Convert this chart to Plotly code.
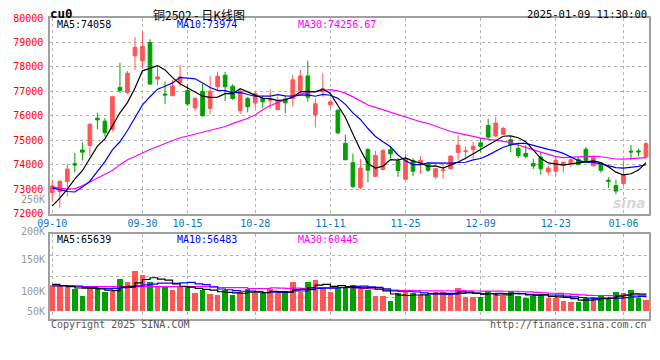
import plotly.graph_objects as go
import pandas as pd

# ---------------- data ----------------
dates = (["09-10", "09-11", "09-12", "09-13", "09-18", "09-19", "09-20", "09-23", "09-24", "09-25", "09-26", "09-27", "09-30"]
         + ["10-08", "10-09", "10-10", "10-11", "10-14", "10-15", "10-16", "10-17", "10-18", "10-21", "10-22", "10-23",
            "10-24", "10-25", "10-28", "10-29", "10-30", "10-31"]
         + ["11-01", "11-04", "11-05", "11-06", "11-07", "11-08", "11-11", "11-12", "11-13", "11-14", "11-15", "11-18",
            "11-19", "11-20", "11-21", "11-22", "11-25", "11-26", "11-27", "11-28", "11-29"]
         + ["12-02", "12-03", "12-04", "12-05", "12-06", "12-09", "12-10", "12-11", "12-12", "12-13", "12-16", "12-17",
            "12-18", "12-19", "12-20", "12-23", "12-24", "12-25", "12-26", "12-27", "12-30", "12-31"]
         + ["01-02", "01-03", "01-06", "01-07", "01-08", "01-09"])

opens = [72860, 72900, 73310, 74040, 74600, 74780, 75900, 75780, 75450, 77160,
         76950, 78450, 78250, 79000, 77500, 76890, 76820, 77350, 77030, 76320,
         77000, 76300, 77190, 77660, 77210, 76210, 76710, 76520, 76700, 76630,
         76250, 76690, 76700, 77030, 77630, 76030, 76980, 76450, 76230, 74870,
         74080, 73060, 74620, 73520, 73800, 74610, 74150, 73400, 74170, 73990,
         74010, 73500, 73750, 73830, 74500, 74530, 74610, 74890, 75600, 75170,
         75240, 75020, 74670, 74460, 74050, 74300, 73700, 73730, 73980, 74050,
         74220, 74630, 73950, 74010, 73360, 73140, 73230, 74550, 74560, 74310]
highs = [73380, 73380, 74030, 74480, 74900, 75700, 76120, 75900, 76820, 78160,
         77830, 79220, 79460, 79130, 78000, 77400, 77460, 78070, 77300, 76780,
         77300, 77620, 77800, 77800, 77290, 77050, 76760, 76980, 76820, 77070,
         76770, 76820, 77670, 77880, 78250, 76700, 77740, 76650, 76250, 75230,
         74450, 74230, 74670, 74560, 74630, 74720, 74270, 74450, 74260, 74350,
         74100, 73870, 74020, 74380, 75200, 74740, 74930, 75100, 75880, 75960,
         75560, 75130, 74880, 74800, 74240, 74500, 73940, 74360, 74110, 74290,
         74320, 74720, 74380, 74100, 73480, 73380, 74170, 74800, 74650, 74920]
lows = [72480, 72240, 72700, 73680, 74170, 74350, 75450, 75150, 75350, 76930,
        76890, 77880, 77950, 77260, 77250, 76480, 76800, 77200, 76410, 76190,
        75970, 76080, 77050, 76600, 76650, 76070, 76140, 76320, 76330, 76300,
        76230, 76100, 76380, 76820, 76570, 75530, 76780, 76300, 75240, 74180,
        73050, 72990, 73280, 73480, 73760, 74260, 73500, 73380, 73530, 73630,
        73700, 73420, 73420, 73800, 74200, 74200, 74250, 74500, 75060, 75120,
        75220, 74500, 74270, 74260, 73820, 73590, 73560, 73540, 73680, 73900,
        73980, 74100, 73930, 73670, 73050, 72780, 73130, 74180, 74340, 74250]
closes = [73130, 73310, 73820, 73980, 74510, 75650, 75830, 75310, 76780, 77030,
          77740, 78800, 78840, 77300, 77590, 76850, 77220, 77590, 76480, 76710,
          76000, 77000, 77620, 77190, 76710, 77010, 76370, 76900, 76570, 76670,
          76600, 76530, 77470, 77630, 76760, 76490, 77100, 76570, 75300, 74200,
          73100, 73860, 73770, 74370, 74580, 74440, 73760, 74220, 73730, 74180,
          73770, 73830, 73780, 74350, 74800, 74560, 74750, 74750, 75130, 75700,
          75480, 74810, 74370, 74340, 73940, 73830, 73860, 74180, 74100, 74200,
          74000, 74170, 74280, 73770, 73320, 72920, 73600, 74520, 74520, 74860]
volumes = [101400, 101400, 98700, 85800, 59700, 97500, 88500, 75300, 78000, 124800,
           114300, 157200, 140400, 111900, 96300, 97500, 81900, 94800, 94800, 71400,
           80700, 66300, 62400, 81900, 62400, 72900, 85800, 69000, 69000, 84600,
           69000, 78000, 114300, 75300, 114300, 120900, 94800, 75300, 88500, 94800,
           101400, 90900, 81900, 59700, 59700, 39000, 69000, 75300, 69000, 62400,
           62400, 75300, 75300, 69000, 90900, 55800, 55800, 55800, 78000, 66300,
           59700, 78000, 59700, 51900, 58500, 65100, 51900, 49500, 39000, 36300,
           36300, 51900, 55800, 58500, 46800, 75300, 71400, 81900, 51900, 42900]

# moving-average values before enough history is visible
ma5_head = [72310, 72630, 73000, 73420]
ma10_head = [73050, 72960, 72900, 72880, 73080, 73320, 73700, 74120, 74600]
ma30_head = [73080, 73030, 73000, 73020, 73130, 73290, 73450, 73590, 73760, 74000,
             74200, 74330, 74490, 74620, 74740, 74860, 74980, 75100, 75170, 75250,
             75310, 75400, 75480, 75560, 75680, 75780, 75900, 76030, 76250]
vma5_head = [104100, 98700, 94800, 89700]
vma10_head = [97500, 97500, 97500, 97500, 92400, 92400, 88500, 87000, 88500]
vma30_head = [98700, 98700, 98700, 94800, 94800, 94800, 94800, 94800, 94800, 94800,
              94800, 94800, 94800, 94800, 94800, 94800, 94800, 94800, 94800, 94800,
              94800, 94800, 90900, 90900, 90900, 90900, 87800, 87800, 87800]

tick_dates = ["09-10", "09-30", "10-15", "10-28", "11-11", "11-25", "12-09", "12-23", "01-06"]
price_ticks = [72000, 73000, 74000, 75000, 76000, 77000, 78000, 79000, 80000]
vol_tick_labels = ["250K", "200K", "150K", "100K", "50K"]
price_legend = [("MA5", "74058"), ("MA10", "73974"), ("MA30", "74256.67")]
vol_legend = [("MA5", "65639"), ("MA10", "56483"), ("MA30", "60445")]
symbol = "cu0"
title = "铜2502 - 日K线图"
timestamp = "2025-01-09 11:30:00"


def with_head(series, window, head):
    vals = pd.Series(series, dtype=float).rolling(window).mean().tolist()
    for i, v in enumerate(head):
        vals[i] = v
    return vals


ma5 = with_head(closes, 5, ma5_head)
ma10 = with_head(closes, 10, ma10_head)
ma30 = with_head(closes, 30, ma30_head)
vma5 = with_head(volumes, 5, vma5_head)
vma10 = with_head(volumes, 10, vma10_head)
vma30 = with_head(volumes, 30, vma30_head)

# ---------------- styling / layout ----------------
# the page body adds an 8px margin, so page pixels = figure pixels + 8
OFF = 8
PAGE_W, PAGE_H = 660, 360
W, H = PAGE_W - OFF, PAGE_H - OFF
PLOT_L, PLOT_R, PLOT_T, PLOT_B = 50, 649, 18, 319      # page pixels
L, T = PLOT_L - OFF, PLOT_T - OFF
R, B = W - (PLOT_R - OFF), H - (PLOT_B - OFF)
PW, PH = PLOT_R - PLOT_L, PLOT_B - PLOT_T
RED, GREEN = "#FF5656", "#00A000"
BLUE_TXT = "#0078D0"
GRID = "#B4B4B4"
FRAME = "#A0A0A0"
MONO = "DejaVu Sans Mono"


def pxx(x):
    return (x - PLOT_L) / PW


def pyy(y):
    return (PLOT_B - y) / PH


x = list(range(len(dates)))
step = 7.515
first_px, last_px = 52.3, 646.0
xrange_ = [-(first_px - PLOT_L) / step, (len(dates) - 1) + (PLOT_R - last_px) / step]

price_dom = [pyy(213.5), 1.0]
vol_dom = [0.0, pyy(234)]
vol_per_px = 3900
vrange = [-(319 - 311) * vol_per_px, (311 - 234) * vol_per_px]
vgrid = [vrange[0] + k * (vrange[1] - vrange[0]) / 4 for k in (1, 2, 3)]

colors = [RED if c >= o else GREEN for o, c in zip(opens, closes)]

fig = go.Figure()
fig.add_trace(go.Candlestick(
    x=x, open=opens, high=highs, low=lows, close=closes,
    increasing=dict(line=dict(color=RED, width=1), fillcolor=RED),
    decreasing=dict(line=dict(color=GREEN, width=1), fillcolor=GREEN),
    whiskerwidth=0, xaxis="x", yaxis="y", showlegend=False,
))
for vals, col in ((ma30, "#FF00FF"), (ma10, "#0000FF"), (ma5, "#000000")):
    fig.add_trace(go.Scatter(x=x, y=vals, mode="lines", line=dict(color=col, width=1.2),
                             xaxis="x", yaxis="y", showlegend=False, hoverinfo="skip"))

fig.add_trace(go.Bar(x=x, y=volumes, marker=dict(color=colors, line=dict(width=0)), width=0.74,
                     xaxis="x2", yaxis="y2", showlegend=False))
for vals, col in ((vma30, "#FF00FF"), (vma10, "#0000FF"), (vma5, "#000000")):
    fig.add_trace(go.Scatter(x=x, y=vals, mode="lines", line=dict(color=col, width=1.2, shape="hv"),
                             xaxis="x2", yaxis="y2", showlegend=False, hoverinfo="skip"))

tickvals = [dates.index(d) for d in tick_dates]
axis_common = dict(showline=True, linecolor=FRAME, linewidth=1.5, mirror=True,
                   showgrid=True, gridcolor=GRID, griddash="dot", gridwidth=1, zeroline=False)


def note(xp, yp, text, anchor, size, color, family=MONO):
    return dict(x=pxx(xp), y=pyy(yp), xref="paper", yref="paper", text=text, showarrow=False,
                xanchor=anchor, yanchor="middle", font=dict(family=family, size=size, color=color))


annotations = [
    note(48, 14, "<b>" + symbol + "</b>", "left", 12.5, "#000"),
    note(199, 14.5, title, "center", 12, "#000", "Noto Sans CJK SC"),
    note(649, 13.5, timestamp, "right", 10.5, "#000"),
]
leg_x = [55, 175, 296]
leg_col = ["#000000", "#0000FF", "#FF00FF"]
for (name, val), lx, lc in zip(price_legend, leg_x, leg_col):
    annotations.append(note(lx, 24.5, f"{name}:{val}", "left", 10, lc))
for (name, val), lx, lc in zip(vol_legend, leg_x, leg_col):
    annotations.append(note(lx, 240, f"{name}:{val}", "left", 10, lc))
vol_label_y = [199, 231, 260, 291, 311]
for t, yy in zip(vol_tick_labels, vol_label_y):
    annotations.append(note(46.5, yy, t, "right", 10, "#9A9A9A"))
annotations.append(note(49, 324.5, "Copyright 2025 SINA.COM", "left", 10, "#555"))
annotations.append(note(649, 324.5, "http://finance.sina.com.cn", "right", 10, "#555"))
annotations.append(note(648, 203, "<b><i>sina</i></b>", "right", 14, "#D8D8D8", "DejaVu Sans"))

fig.update_layout(
    width=W, height=H, margin=dict(l=L, r=R, t=T, b=B, autoexpand=False),
    paper_bgcolor="white", plot_bgcolor="white",
    xaxis=dict(domain=[0, 1], range=xrange_, anchor="y", tickvals=tickvals, ticktext=tick_dates,
               tickfont=dict(family=MONO, size=10, color=BLUE_TXT), ticks="", ticklabelstandoff=0,
               rangeslider=dict(visible=False), **axis_common),
    yaxis=dict(domain=price_dom, range=[price_ticks[0], price_ticks[-1]], tickvals=price_ticks,
               ticktext=[str(v) for v in price_ticks], tickfont=dict(family=MONO, size=10, color="#FF0000"),
               ticks="", ticklabelstandoff=3, **axis_common),
    xaxis2=dict(domain=[0, 1], range=xrange_, anchor="y2", tickvals=tickvals, showticklabels=False, ticks="",
                matches="x", **axis_common),
    yaxis2=dict(domain=vol_dom, range=vrange, tickvals=vgrid, showticklabels=False, ticks="",
                anchor="x2", **axis_common),
    annotations=annotations,
    bargap=0,
    hovermode=False,
)

fig.write_html("out.html")
